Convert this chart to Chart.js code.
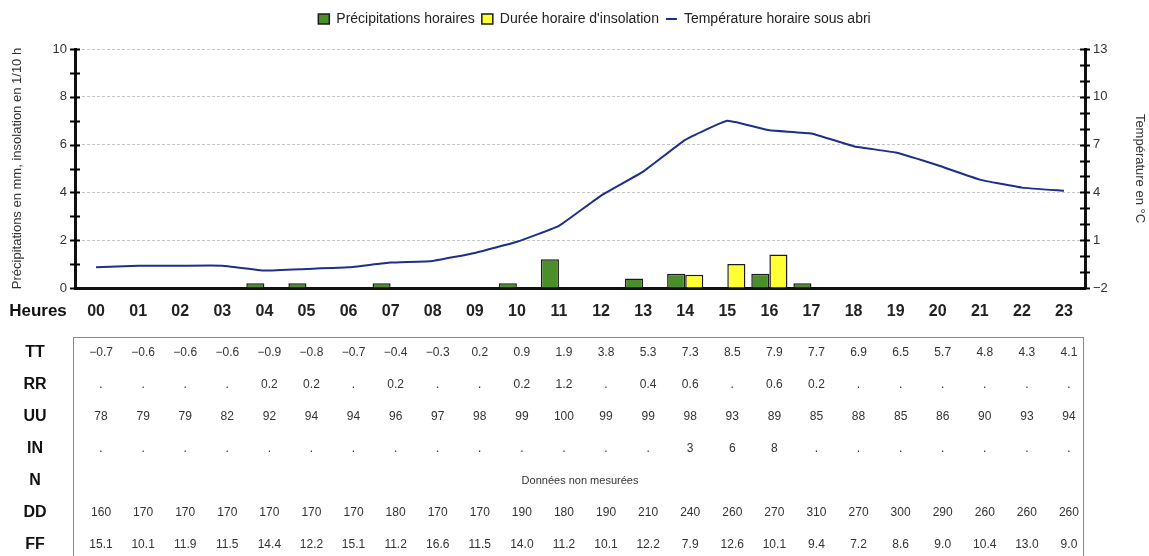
<!DOCTYPE html>
<html>
<head>
<meta charset="utf-8">
<script src="https://cdn.jsdelivr.net/npm/chart.js@4.4.1/dist/chart.umd.min.js"></script>
<style>
  html, body { margin: 0; background: #fff; }
</style>
</head>
<body>
<canvas id="meteo" width="1149" height="556"></canvas>
<script>
// heures de la journée
const hours = ['00','01','02','03','04','05','06','07','08','09','10','11',
               '12','13','14','15','16','17','18','19','20','21','22','23'];
// TT : température horaire sous abri (°C)
const tt = [-0.7,-0.6,-0.6,-0.6,-0.9,-0.8,-0.7,-0.4,-0.3,0.2,0.9,1.9,
            3.8,5.3,7.3,8.5,7.9,7.7,6.9,6.5,5.7,4.8,4.3,4.1];
// RR : précipitations horaires (mm), null = "."
const rr = [null,null,null,null,0.2,0.2,null,0.2,null,null,0.2,1.2,
            null,0.4,0.6,null,0.6,0.2,null,null,null,null,null,null];
// UU : humidité (%)
const uu = [78,79,79,82,92,94,94,96,97,98,99,100,99,99,98,93,89,85,88,85,86,90,93,94];
// IN : insolation (1/10 h), null = "."
const ins = [null,null,null,null,null,null,null,null,null,null,null,null,
             null,null,3,6,8,null,null,null,null,null,null,null];
// hauteur des barres jaunes
const sunBars = [null,null,null,null,null,null,null,null,null,null,null,null,
                 null,null,0.55,1.0,1.4,null,null,null,null,null,null,null];
// DD : direction du vent, FF : force du vent
const dd = [160,170,170,170,170,170,170,180,170,170,190,180,190,210,240,260,270,310,270,300,290,260,260,260];
const ff = [15.1,10.1,11.9,11.5,14.4,12.2,15.1,11.2,16.6,11.5,14.0,11.2,10.1,12.2,7.9,12.6,10.1,9.4,7.2,8.6,9.0,10.4,13.0,9.0];

const FONT = '"Liberation Sans", Arial, sans-serif';
const minus = v => String(v).replace('-', '\u2212');
const dot = v => (v === null ? '.' : String(v));

// un peu d'espace sous la légende, légende un peu décalée à droite
const legendGap = {
  id: 'legendGap',
  beforeInit(chart) {
    const lg = chart.legend;
    const fit = lg.fit;
    const draw = lg.draw;
    lg.fit = function () {
      fit.call(this);
      this.height += 13;
    };
    lg.draw = function (a) {
      this.ctx.save();
      this.ctx.translate(18, 0);
      draw.call(this, a);
      this.ctx.restore();
    };
  }
};

// petites croix sur les axes + tableau sous le graphique
const axisTable = {
  id: 'axisTable',
  afterDraw(chart) {
    const ctx = chart.ctx;
    const area = chart.chartArea;
    const xs = chart.scales.x;
    ctx.save();
    ctx.strokeStyle = '#000';
    ctx.lineWidth = 2;
    ['y', 'y2'].forEach(id => {
      const s = chart.scales[id];
      const ax = id === 'y' ? area.left : area.right;
      s.ticks.forEach((t, i) => {
        const py = Math.round(s.getPixelForTick(i)) + 0.5;
        ctx.beginPath();
        ctx.moveTo(ax - 5, py);
        ctx.lineTo(ax + 5, py);
        ctx.stroke();
      });
    });

    ctx.fillStyle = '#111';
    ctx.font = 'bold 17px ' + FONT;
    ctx.textAlign = 'center';
    ctx.textBaseline = 'middle';
    ctx.fillText('Heures', 38, 311);

    ctx.strokeStyle = '#888';
    ctx.lineWidth = 1;
    ctx.strokeRect(area.left - 1.5, 337.5, area.right - area.left, 240);

    const rows = [
      ['TT', tt.map(v => minus(v.toFixed(1)))],
      ['RR', rr.map(dot)],
      ['UU', uu.map(String)],
      ['IN', ins.map(dot)],
      ['N', null],
      ['DD', dd.map(String)],
      ['FF', ff.map(v => v.toFixed(1))]
    ];
    rows.forEach((row, r) => {
      const y = 353 + r * 32;
      ctx.fillStyle = '#111';
      ctx.font = 'bold 16px ' + FONT;
      ctx.fillText(row[0], 35, y);
      ctx.fillStyle = '#333';
      ctx.font = '12px ' + FONT;
      if (row[1] === null) {
        ctx.font = '11px ' + FONT;
        ctx.fillText('Données non mesurées', (area.left + area.right) / 2, y);
        return;
      }
      row[1].forEach((txt, i) => {
        ctx.fillText(txt, xs.getPixelForValue(i) + 5, y);
      });
    });
    ctx.restore();
  }
};

new Chart(document.getElementById('meteo'), {
  data: {
    labels: hours,
    datasets: [{
      type: 'bar',
      label: 'Précipitations horaires',
      data: rr,
      backgroundColor: '#4b8f2b',
      borderColor: '#1c1c1c',
      borderWidth: 1.5,
      pointStyle: 'rect',
      categoryPercentage: 0.86,
      barPercentage: 1,
      yAxisID: 'y',
      order: 2
    }, {
      type: 'bar',
      label: "Durée horaire d'insolation",
      data: sunBars,
      backgroundColor: '#ffff33',
      borderColor: '#1c1c1c',
      borderWidth: 1.5,
      pointStyle: 'rect',
      categoryPercentage: 0.86,
      barPercentage: 1,
      yAxisID: 'y',
      order: 2
    }, {
      type: 'line',
      label: 'Température horaire sous abri',
      data: tt,
      borderColor: '#1d2f8c',
      backgroundColor: '#1d2f8c',
      borderWidth: 2,
      pointRadius: 0,
      pointStyle: 'line',
      tension: 0.1,
      yAxisID: 'y2',
      order: 1
    }]
  },
  options: {
    responsive: false,
    animation: false,
    layout: { padding: { top: 5, left: 6, right: 2, bottom: 234 } },
    plugins: {
      tooltip: { enabled: false },
      legend: {
        labels: {
          usePointStyle: true,
          pointStyleWidth: 11,
          boxHeight: 10,
          padding: 7,
          color: '#222',
          font: { family: FONT, size: 14 },
          sort: (a, b) => a.datasetIndex - b.datasetIndex
        }
      }
    },
    scales: {
      x: {
        grid: { display: false, drawTicks: false },
        border: { color: '#111', width: 3 },
        ticks: {
          autoSkip: false, maxRotation: 0, padding: 14, color: '#222',
          font: { family: FONT, size: 16, weight: 'bold' }
        },
        afterFit(s) { s.height = 34; }
      },
      y: {
        position: 'left',
        min: 0, max: 10,
        ticks: {
          stepSize: 1, autoSkip: false, padding: 8, color: '#333',
          font: { family: FONT, size: 13 },
          callback: v => (v % 2 === 0 ? v : '')
        },
        grid: {
          drawTicks: false,
          color: c => (c.tick.value % 2 === 0 ? '#c6c6c6' : 'rgba(0,0,0,0)')
        },
        border: { color: '#111', width: 3, dash: [3, 2] },
        title: {
          display: true,
          text: 'Précipitations en mm, insolation en 1/10 h',
          color: '#333',
          font: { family: FONT, size: 13 },
          padding: { top: 4, bottom: 0 }
        },
        afterFit(s) { s.width = 69; }
      },
      y2: {
        position: 'right',
        min: -2, max: 13,
        ticks: {
          stepSize: 1, autoSkip: false, padding: 8, color: '#333',
          font: { family: FONT, size: 13 },
          callback: v => ((v + 2) % 3 === 0 ? minus(v) : '')
        },
        grid: { drawOnChartArea: false, drawTicks: false },
        border: { color: '#111', width: 3 },
        title: {
          display: true,
          text: 'Température en °C',
          color: '#333',
          font: { family: FONT, size: 13 },
          padding: { top: 0, bottom: 0 }
        },
        afterFit(s) { s.width = 62; }
      }
    }
  },
  plugins: [legendGap, axisTable]
});
</script>
</body>
</html>
